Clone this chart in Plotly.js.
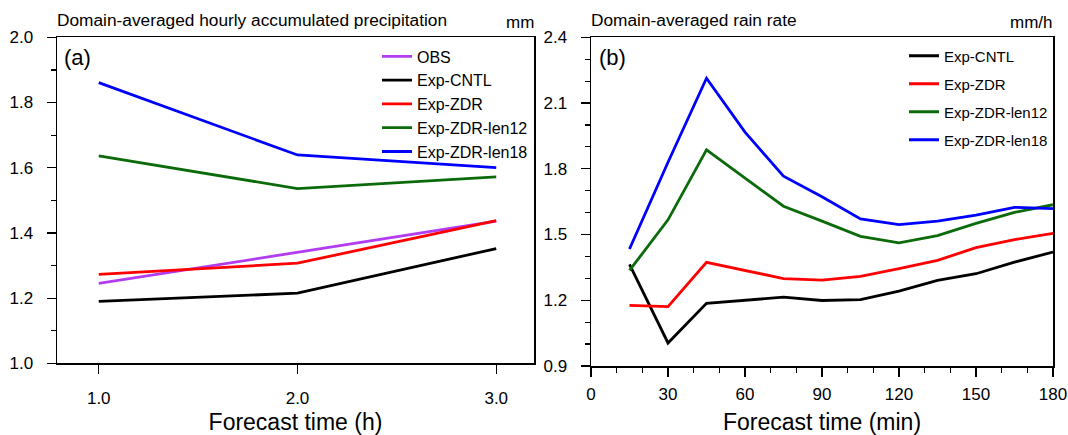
<!DOCTYPE html>
<html>
<head>
<meta charset="utf-8">
<script src="https://cdn.plot.ly/plotly-3.0.1.min.js"></script>
<style>html,body{margin:0;padding:0;background:#fff;}#chart{width:1068px;height:435px;}</style>
</head>
<body>
<div id="chart"></div>
<script>
// ---- Data ----
var hours = [1, 2, 3];
var obsA    = [1.245, 1.340, 1.436];
var cntlA   = [1.190, 1.215, 1.352];
var zdrA    = [1.273, 1.307, 1.438];
var len12A  = [1.636, 1.536, 1.572];
var len18A  = [1.861, 1.639, 1.600];

var minutes = [15, 30, 45, 60, 75, 90, 105, 120, 135, 150, 165, 180];
var cntlB  = [1.364, 1.005, 1.186, 1.200, 1.214, 1.199, 1.203, 1.242, 1.291, 1.321, 1.374, 1.420];
var zdrB   = [1.177, 1.171, 1.373, 1.336, 1.299, 1.292, 1.309, 1.344, 1.382, 1.440, 1.477, 1.505];
var len12B = [1.336, 1.567, 1.886, 1.759, 1.629, 1.561, 1.492, 1.462, 1.495, 1.551, 1.601, 1.636];
var len18B = [1.434, 1.830, 2.213, 1.967, 1.766, 1.672, 1.571, 1.545, 1.561, 1.588, 1.624, 1.618];

var namesA = ['OBS', 'Exp-CNTL', 'Exp-ZDR', 'Exp-ZDR-len12', 'Exp-ZDR-len18'];
var namesB = ['Exp-CNTL', 'Exp-ZDR', 'Exp-ZDR-len12', 'Exp-ZDR-len18'];
var colorsA = ['#b23cf0', '#000000', '#ff0000', '#0b6b0b', '#0000ff'];
var colorsB = ['#000000', '#ff0000', '#0b6b0b', '#0000ff'];

var W = 1068, H = 435;
function px(x){ return x / W; }
function py(y){ return 1 - y / H; }

var seriesA = [obsA, cntlA, zdrA, len12A, len18A];
var seriesB = [cntlB, zdrB, len12B, len18B];
var traces = [];
seriesA.forEach(function(s, i){
  traces.push({x: hours, y: s, name: namesA[i], mode: 'lines', type: 'scatter',
    xaxis: 'x', yaxis: 'y', legend: 'legend', legendgroup: 'a' + i,
    line: {color: colorsA[i], width: 2.8}});
});
seriesB.forEach(function(s, i){
  traces.push({x: minutes, y: s, name: namesB[i], mode: 'lines', type: 'scatter',
    xaxis: 'x2', yaxis: 'y2', legend: 'legend2', legendgroup: 'b' + i,
    line: {color: colorsB[i], width: 2.8}});
});

var FONT = 'Liberation Sans, Arial, Helvetica, sans-serif';
var tickFont = {family: FONT, size: 17, color: '#000'};
function axisBase(){
  return {showline: true, linecolor: '#000', linewidth: 1.5, mirror: true,
    ticks: 'outside', ticklen: 9, tickwidth: 1.2, tickcolor: '#000',
    showgrid: false, zeroline: false, tickfont: tickFont, fixedrange: true};
}

var xa = axisBase();
Object.assign(xa, {domain: [px(57), px(534)], range: [0.79, 3.19], tickvals: hours,
  tickformat: '.1f', ticklabelstandoff: 10, anchor: 'y',
  title: {text: 'Forecast time (h)', font: {family: FONT, size: 23, color: '#000'}, standoff: 6}});
var ya = axisBase();
Object.assign(ya, {domain: [py(363.3), py(37.3)], range: [1.0, 2.0], dtick: 0.2, tick0: 1.0,
  tickformat: '.1f', ticklabelstandoff: 10, anchor: 'x',
  minor: {dtick: 0.1, ticks: 'outside', ticklen: 5, tickcolor: '#000', tickwidth: 1.2, showgrid: false}});
var xb = axisBase();
Object.assign(xb, {domain: [px(591), px(1053)], range: [0, 180], dtick: 30, tick0: 0,
  ticklabelstandoff: 3, anchor: 'y2',
  minor: {dtick: 10, ticks: 'outside', ticklen: 5, tickcolor: '#000', tickwidth: 1.2, showgrid: false},
  title: {text: 'Forecast time (min)', font: {family: FONT, size: 23, color: '#000'}, standoff: 14}});
var yb = axisBase();
Object.assign(yb, {domain: [py(366), py(37.3)], range: [0.9, 2.4], dtick: 0.3, tick0: 0.9,
  tickformat: '.1f', ticklabelstandoff: 10, anchor: 'x2',
  minor: {dtick: 0.1, ticks: 'outside', ticklen: 5, tickcolor: '#000', tickwidth: 1.2, showgrid: false}});

var layout = {
  width: W, height: H,
  margin: {l: 0, r: 0, t: 0, b: 0},
  paper_bgcolor: '#fff', plot_bgcolor: '#fff',
  showlegend: true,
  xaxis: xa, yaxis: ya, xaxis2: xb, yaxis2: yb,
  legend: {x: px(377), y: py(39.4), xanchor: 'left', yanchor: 'top', bgcolor: 'rgba(0,0,0,0)',
    borderwidth: 0, font: {family: FONT, size: 16, color: '#000'},
    traceorder: 'grouped', tracegroupgap: 0, itemwidth: 30},
  legend2: {x: px(904), y: py(39.5), xanchor: 'left', yanchor: 'top', bgcolor: 'rgba(0,0,0,0)',
    borderwidth: 0, font: {family: FONT, size: 15, color: '#000'},
    traceorder: 'grouped', tracegroupgap: 5.5, itemwidth: 30},
  annotations: [
    {text: 'Domain-averaged hourly accumulated precipitation', xref: 'paper', yref: 'paper',
      x: px(55), y: py(20), xanchor: 'left', yanchor: 'middle', showarrow: false,
      font: {family: FONT, size: 17.3, color: '#000'}},
    {text: 'mm', xref: 'paper', yref: 'paper', x: px(536), y: py(23), xanchor: 'right', yanchor: 'middle',
      showarrow: false, font: {family: FONT, size: 17, color: '#000'}},
    {text: 'Domain-averaged rain rate', xref: 'paper', yref: 'paper',
      x: px(589), y: py(20), xanchor: 'left', yanchor: 'middle', showarrow: false,
      font: {family: FONT, size: 17.3, color: '#000'}},
    {text: 'mm/h', xref: 'paper', yref: 'paper', x: px(1055), y: py(23), xanchor: 'right', yanchor: 'middle',
      showarrow: false, font: {family: FONT, size: 17, color: '#000'}},
    {text: '(a)', xref: 'paper', yref: 'paper', x: px(62), y: py(57), xanchor: 'left', yanchor: 'middle',
      showarrow: false, font: {family: FONT, size: 22, color: '#000'}},
    {text: '(b)', xref: 'paper', yref: 'paper', x: px(597), y: py(57), xanchor: 'left', yanchor: 'middle',
      showarrow: false, font: {family: FONT, size: 22, color: '#000'}}
  ]
};

Plotly.newPlot('chart', traces, layout, {displayModeBar: false, staticPlot: true});
</script>
</body>
</html>
